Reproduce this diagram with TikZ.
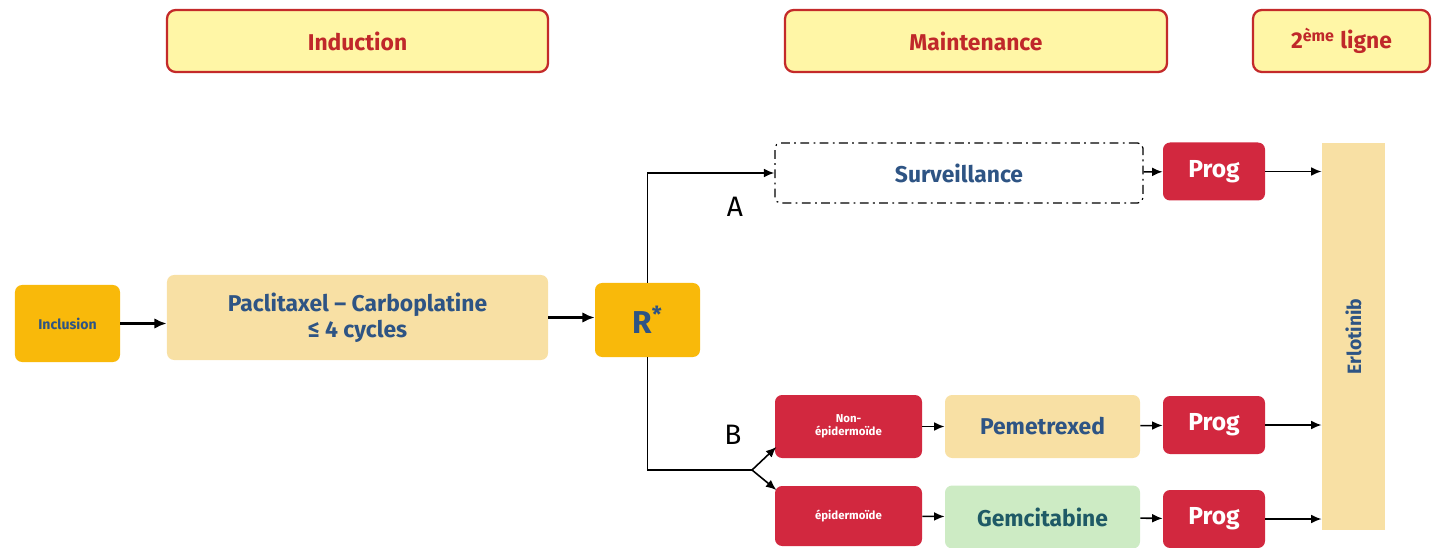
\documentclass[tikz,border=0pt]{standalone}
\usepackage{fontspec}
\setmainfont{Fira Sans}
\usetikzlibrary{arrows.meta}
\definecolor{hdrfill}{HTML}{FFF6A6}
\definecolor{hdrline}{HTML}{C42A2A}
\definecolor{hdrtext}{HTML}{C0282A}
\definecolor{orangebox}{HTML}{F9B90A}
\definecolor{beigebox}{HTML}{F8E0A4}
\definecolor{redbox}{HTML}{D2283F}
\definecolor{greenbox}{HTML}{CDEBC4}
\definecolor{bluetext}{HTML}{2E5484}
\definecolor{tealtext}{HTML}{1F5A66}
\tikzset{
  hdr/.style={draw=hdrline, line width=1.3pt, fill=hdrfill, rounded corners=5pt,
    text=hdrtext, font=\fontsize{13}{15}\selectfont\bfseries, minimum height=12.4mm},
  orangebox/.style={fill=orangebox, rounded corners=4pt, text=bluetext, align=center},
  beigebox/.style={fill=beigebox, rounded corners=4pt, text=bluetext, align=center,
    font=\fontsize{13}{15}\selectfont\bfseries},
  redbox/.style={fill=redbox, rounded corners=4pt, text=white, align=center,
    font=\bfseries},
  prog/.style={redbox, minimum width=20.4mm, minimum height=11.6mm,
    font=\fontsize{14}{16}\selectfont\bfseries},
  link/.style={-{Latex[length=6pt,width=5pt]}, line width=0.9pt},
  biglink/.style={-{Latex[length=7pt,width=6pt]}, line width=1.6pt},
  branch/.style={font=\fontsize{16}{18}\selectfont}
}
\begin{document}
\begin{tikzpicture}[x=0.2mm, y=-0.2mm]
  \useasboundingbox (0,0) rectangle (1438,548);

  % phase headers
  \node[hdr, minimum width=76.2mm] (induction) at (357.5, 41) {Induction};
  \node[hdr, minimum width=76.4mm] (maintenance) at (976, 41) {Maintenance};
  \node[hdr, minimum width=35.4mm] (ligne) at (1341.5, 41) {2\textsuperscript{ème} ligne};

  % induction
  \node[orangebox, minimum width=21mm, minimum height=15.4mm,
    font=\fontsize{8}{9}\selectfont\bfseries] (inclusion) at (67.5, 323.5) {Inclusion};
  \node[beigebox, minimum width=76.2mm, minimum height=17mm] (chimio) at (357.5, 317.5)
    {Paclitaxel – Carboplatine\\≤ 4 cycles};
  \node[orangebox, minimum width=21mm, minimum height=14.8mm,
    font=\fontsize{18}{20}\selectfont\bfseries] (rando) at (647.5, 320) {R\textsuperscript{*}};

  \draw[biglink] (inclusion) -- (inclusion -| chimio.west);
  \draw[biglink] (chimio) -- (chimio -| rando.west);

  % bras A
  \node[draw, line width=0.7pt, dash pattern=on 5pt off 2.5pt on 1pt off 2.5pt,
    rounded corners=3pt, minimum width=73.6mm, minimum height=12mm,
    text=bluetext, font=\fontsize{13}{15}\selectfont\bfseries] (surv) at (959, 173) {Surveillance};
  \node[prog] (progA) at (1214, 171.5) {Prog};

  % bras B
  \node[redbox, minimum width=29.4mm, minimum height=12.6mm,
    font=\fontsize{6.5}{7.5}\selectfont\bfseries] (nonepi) at (848.5, 426.5) {Non-\\épidermoïde};
  \node[beigebox, minimum width=39mm, minimum height=12.6mm] (pem) at (1042.5, 426.5) {Pemetrexed};
  \node[prog] (progB) at (1214, 425) {Prog};
  \node[redbox, minimum width=29.4mm, minimum height=12mm,
    font=\fontsize{6.5}{7.5}\selectfont\bfseries] (epi) at (848.5, 516) {épidermoïde};
  \node[fill=greenbox, rounded corners=4pt, minimum width=39mm, minimum height=12.6mm,
    text=tealtext, font=\fontsize{13}{15}\selectfont\bfseries] (gem) at (1042.5, 517) {Gemcitabine};
  \node[prog] (progC) at (1214, 519) {Prog};

  % 2eme ligne
  \node[fill=beigebox, minimum width=12.6mm, minimum height=77.4mm] (erlo) at (1353.5, 336.5) {};
  \node[rotate=90, text=bluetext, font=\fontsize{11}{13}\selectfont\bfseries] (erlotxt) at (erlo) {Erlotinib};

  % randomisation
  \draw[link] (rando.north) |- (surv.west);
  \node[branch] (labA) at (735, 207) {A};
  \coordinate (fork) at (752, 470);
  \draw[line width=0.9pt] (rando.south) |- (fork);
  \draw[link] (fork) -- ([xshift=1pt,yshift=6.5pt]nonepi.south west);
  \draw[link] (fork) -- ([xshift=1pt,yshift=-2.5pt]epi.north west);
  \node[branch] (labB) at (733, 435) {B};

  % sequences
  \draw[link] (surv) -- (progA);
  \draw[link] (nonepi) -- (pem);
  \draw[link] (pem) -- (progB);
  \draw[link] (epi) -- (gem);
  \draw[link] (gem) -- (progC);
  \draw[link] (progA) -- (progA -| erlo.west);
  \draw[link] (progB) -- (progB -| erlo.west);
  \draw[link] (progC) -- (progC -| erlo.west);
\end{tikzpicture}
\end{document}
